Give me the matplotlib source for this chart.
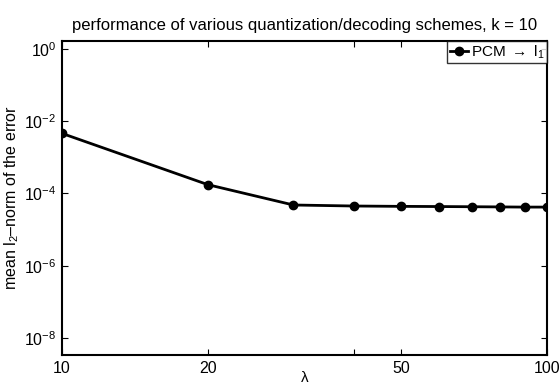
import matplotlib
matplotlib.use("Agg")
import matplotlib.pyplot as plt
from matplotlib.ticker import FixedLocator, NullLocator, FixedFormatter

plt.rcParams['font.family'] = ['Liberation Sans', 'DejaVu Sans']
plt.rcParams['mathtext.fontset'] = 'custom'
plt.rcParams['mathtext.rm'] = 'Liberation Sans'
plt.rcParams['mathtext.it'] = 'Liberation Sans'

lam = [10, 20, 30, 40, 50, 60, 70, 80, 90, 100]
err = [4.6e-3, 1.75e-4, 4.8e-5, 4.5e-5, 4.4e-5, 4.35e-5, 4.3e-5, 4.25e-5, 4.2e-5, 4.2e-5]
xticks = [10, 20, 40, 50, 100]
xticklabels = ['10', '20', '', '50', '100']
yticks = [1e-8, 1e-6, 1e-4, 1e-2, 1e0]
yticklabels = ['$10^{-8}$', '$10^{-6}$', '$10^{-4}$', '$10^{-2}$', '$10^{0}$']

fig = plt.figure(figsize=(5.6, 3.84), dpi=100)
ax = fig.add_axes([62/560, 1-355/384, (547-62)/560, (355-41)/384])
ax.plot(lam, err, color='black', lw=2, marker='o', ms=6, label=r'PCM $\rightarrow$ l$_1$')
ax.set_xscale('log')
ax.set_yscale('log')
ax.set_xlim(10, 100)
ax.set_ylim(10**-8.47, 10**0.22)
ax.xaxis.set_major_locator(FixedLocator(xticks))
ax.xaxis.set_major_formatter(FixedFormatter(xticklabels))
ax.xaxis.set_minor_locator(NullLocator())
ax.yaxis.set_major_locator(FixedLocator(yticks))
ax.yaxis.set_major_formatter(FixedFormatter(yticklabels))
ax.yaxis.set_minor_locator(NullLocator())
ax.tick_params(direction='in', length=4, width=0.8, labelsize=11.5, top=True, right=True, pad=4)
for s in ax.spines.values():
    s.set_linewidth(1.5)
ax.set_title('performance of various quantization/decoding schemes, k = 10', fontsize=12, pad=8)
ax.set_xlabel('λ', fontsize=11)
ax.xaxis.set_label_coords(0.5, -(371 - 355) / 314)
ax.set_ylabel('mean l$_2$–norm of the error', fontsize=11.5, labelpad=2)
leg = ax.legend(loc='upper right', fontsize=11, frameon=True, fancybox=False,
                borderaxespad=0, handlelength=1.2, handletextpad=0.2, borderpad=0.15)
leg.get_frame().set_edgecolor('black')
leg.get_frame().set_linewidth(1)
fig.savefig('out.png', dpi=100)
